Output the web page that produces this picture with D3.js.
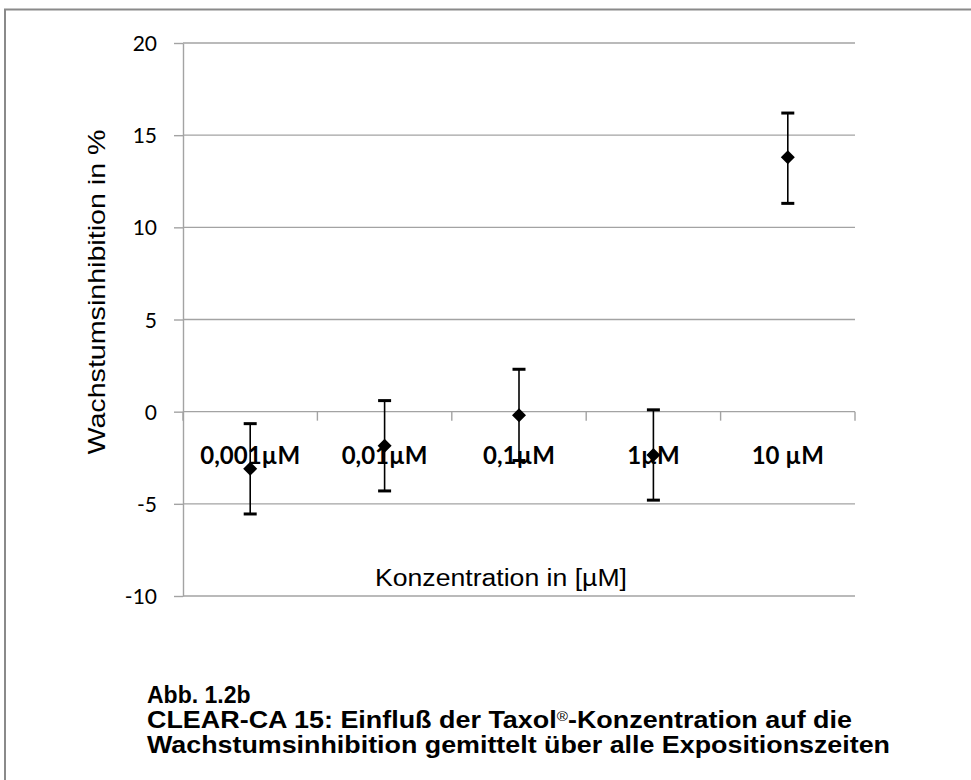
<!DOCTYPE html>
<html lang="de">
<head>
    <meta charset="UTF-8">
    <title>CLEAR-CA 15 Taxol</title>
    <style>
        body {
            margin: 0;
            background: #fff;
        }
        svg text {
            fill: #000;
        }
        .tick-label {
            font-family: Lato, "Open Sans", sans-serif;
            font-size: 21px;
        }
        .cat-label {
            font-family: Lato, "Open Sans", sans-serif;
            font-size: 24px;
            font-weight: bold;
        }
        .axis-title {
            font-family: "Liberation Sans", Arial, sans-serif;
            font-size: 23px;
        }
        .caption {
            font-family: "Liberation Sans", Arial, sans-serif;
            font-size: 23px;
            font-weight: bold;
        }
    </style>
</head>
<body>
    <div id="chart"></div>

    <script src="https://d3js.org/d3.v7.min.js"></script>
    <script>
        // Daten
        const categories = ["0,001µM", "0,01µM", "0,1µM", "1µM", "10 µM"];
        const means = [-3.1, -1.85, -0.2, -2.35, 13.8];
        const errPlus = [2.45, 2.45, 2.5, 2.45, 2.4];
        const errMinus = [2.45, 2.45, 2.45, 2.45, 2.5];
        const yTicks = [-10, -5, 0, 5, 10, 15, 20];

        const captionLines = [
            "Abb. 1.2b",
            "CLEAR-CA 15: Einfluß der Taxol®-Konzentration auf die",
            "Wachstumsinhibition gemittelt über alle Expositionszeiten"
        ];

        const W = 971, H = 780;
        const plot = { left: 183, right: 855, top: 43, bottom: 596 };

        const svg = d3.select("#chart")
            .append("svg")
            .attr("width", W)
            .attr("height", H);

        // Rahmen (nur oben und links sichtbar)
        svg.append("rect")
            .attr("x", 5)
            .attr("y", 9.5)
            .attr("width", W + 20)
            .attr("height", H + 20)
            .attr("fill", "none")
            .attr("stroke", "#8a8a8a")
            .attr("stroke-width", 2);

        const x = d3.scaleBand()
            .domain(categories)
            .range([plot.left, plot.right])
            .padding(0);

        const y = d3.scaleLinear()
            .domain([-10, 20])
            .range([plot.bottom, plot.top]);

        // Gitterlinien
        svg.append("g")
            .selectAll("line")
            .data(yTicks)
            .enter()
            .append("line")
            .attr("x1", plot.left)
            .attr("x2", plot.right)
            .attr("y1", d => y(d))
            .attr("y2", d => y(d))
            .attr("stroke", "#a3a3a3")
            .attr("stroke-width", 1.4);

        // Y-Achse
        const yAxis = svg.append("g")
            .attr("transform", `translate(${plot.left},0)`)
            .call(d3.axisLeft(y)
                .tickValues(yTicks)
                .tickSize(9)
                .tickSizeOuter(0)
                .tickPadding(17)
                .tickFormat(d => String(d)));
        yAxis.select(".domain").attr("stroke", "#a3a3a3").attr("stroke-width", 1.4);
        yAxis.selectAll(".tick line").attr("stroke", "#a3a3a3").attr("stroke-width", 1.4);
        yAxis.selectAll(".tick text")
            .attr("class", "tick-label")
            .attr("font-family", null)
            .attr("font-size", null)
            .attr("dy", "0.36em");

        // X-Achse bei y = 0, Striche an den Kategoriegrenzen
        const y0 = y(0);
        const bounds = categories.map(c => x(c)).concat([x.range()[1]]);
        svg.append("g")
            .selectAll("line")
            .data(bounds)
            .enter()
            .append("line")
            .attr("x1", d => d)
            .attr("x2", d => d)
            .attr("y1", y0)
            .attr("y2", y0 + 9)
            .attr("stroke", "#a3a3a3")
            .attr("stroke-width", 1.4);

        svg.append("g")
            .selectAll("text")
            .data(categories)
            .enter()
            .append("text")
            .attr("class", "cat-label")
            .attr("x", d => x(d) + x.bandwidth() / 2)
            .attr("y", y0 + 52)
            .attr("text-anchor", "middle")
            .text(d => d);

        // Fehlerbalken
        const data = categories.map((c, i) => ({
            cat: c, mean: means[i], hi: means[i] + errPlus[i], lo: means[i] - errMinus[i]
        }));
        const capW = 13;
        const err = svg.append("g");
        err.selectAll(".stem")
            .data(data)
            .enter()
            .append("line")
            .attr("x1", d => x(d.cat) + x.bandwidth() / 2)
            .attr("x2", d => x(d.cat) + x.bandwidth() / 2)
            .attr("y1", d => y(d.hi))
            .attr("y2", d => y(d.lo))
            .attr("stroke", "#000")
            .attr("stroke-width", 1.6);
        ["hi", "lo"].forEach(k => {
            err.selectAll(".cap-" + k)
                .data(data)
                .enter()
                .append("line")
                .attr("x1", d => x(d.cat) + x.bandwidth() / 2 - capW / 2)
                .attr("x2", d => x(d.cat) + x.bandwidth() / 2 + capW / 2)
                .attr("y1", d => y(d[k]))
                .attr("y2", d => y(d[k]))
                .attr("stroke", "#000")
                .attr("stroke-width", 3);
        });

        // Rauten-Marker
        svg.append("g")
            .selectAll("path")
            .data(data)
            .enter()
            .append("path")
            .attr("d", "M0,-7 L7,0 L0,7 L-7,0 Z")
            .attr("transform", d => `translate(${x(d.cat) + x.bandwidth() / 2},${y(d.mean)})`)
            .attr("fill", "#000");

        // Achsentitel
        svg.append("text")
            .attr("class", "axis-title")
            .attr("x", 501)
            .attr("y", y(-9) + 8)
            .attr("text-anchor", "middle")
            .attr("textLength", 252)
            .attr("lengthAdjust", "spacingAndGlyphs")
            .text("Konzentration in [µM]");

        svg.append("text")
            .attr("class", "axis-title")
            .attr("transform", "translate(105,292) rotate(-90)")
            .attr("text-anchor", "middle")
            .attr("textLength", 325)
            .attr("lengthAdjust", "spacingAndGlyphs")
            .style("font-size", "24px")
            .text("Wachstumsinhibition in %");

        // Bildunterschrift
        const capWidths = [null, 705, 743];
        captionLines.forEach((line, i) => {
            const t = svg.append("text")
                .attr("class", "caption")
                .attr("x", 147)
                .attr("y", 703 + i * 25);
            if (capWidths[i]) {
                t.attr("textLength", capWidths[i]).attr("lengthAdjust", "spacingAndGlyphs");
            }
            if (line.includes("®")) {
                const parts = line.split("®");
                t.append("tspan").text(parts[0]);
                t.append("tspan").attr("baseline-shift", "super").style("font-size", "13px").style("font-weight", "normal").text("®");
                t.append("tspan").text(parts[1]);
            } else {
                t.text(line);
            }
        });
    </script>
</body>
</html>
